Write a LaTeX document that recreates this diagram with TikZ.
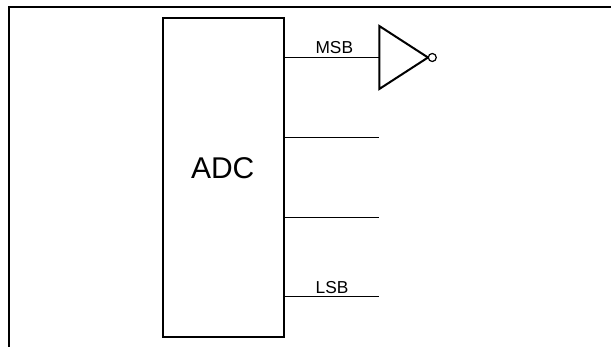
\documentclass[tikz,border=0pt]{standalone}
\usepackage{fontspec}
\setmainfont{Liberation Sans}
\begin{document}
\begin{tikzpicture}[x=1pt,y=-1pt,line join=miter,line cap=butt,font=\fontsize{17.3}{20}\selectfont,
	thin wire/.style={line width=1pt},
	thick wire/.style={line width=2pt}]
	\useasboundingbox (0,0) rectangle (611,347);
	\draw[thick wire] (8.7,347)--(8.7,7.4)--(611,7.4); %frame
	\node[draw,thick wire,minimum width=121.2pt,minimum height=319pt,inner sep=0pt] (adc) at (223.1,177.8) {};
	\node[anchor=base,inner sep=0pt,font=\fontsize{30}{36}\selectfont] (adclabel) at (222.7,178.3) {ADC};
	\coordinate (msbend) at (379.3,57.5);
	\coordinate (twoend) at (379.3,137.3);
	\coordinate (threeend) at (379.3,217.5);
	\coordinate (lsbend) at (379.3,297);
	\coordinate (msbout) at (adc.east |- msbend);
	\coordinate (twoout) at (adc.east |- twoend);
	\coordinate (threeout) at (adc.east |- threeend);
	\coordinate (lsbout) at (adc.east |- lsbend);
	\coordinate (nota) at (379.3,26);
	\coordinate (notb) at (379.3,89);
	\coordinate (notc) at (428,57.5);
	\draw[thin wire] (msbout)--(msbend);
	\draw[thin wire] (twoout)--(twoend);
	\draw[thin wire] (threeout)--(threeend);
	\draw[thin wire] (lsbout)--(lsbend);
	\node[anchor=base,inner sep=0pt] (msb) at (334.3,54) {MSB};
	\node[anchor=base,inner sep=0pt] (lsb) at (332,293.7) {LSB};
	\draw[thick wire] (nota)--(notb)--(notc)--cycle; %inverter
	\node[draw,circle,line width=1.2pt,fill=white,minimum size=8pt,inner sep=0pt] (bubble) at (432.3,57.5) {};
\end{tikzpicture}
\end{document}
